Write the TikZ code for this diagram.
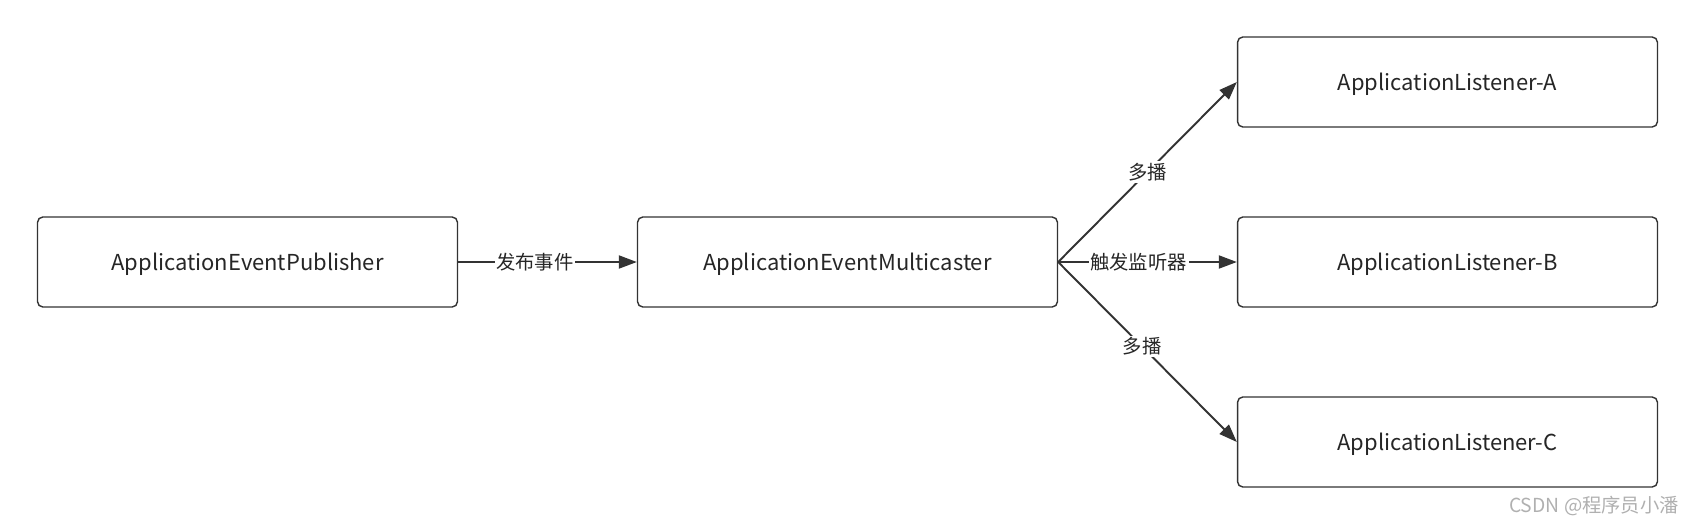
\documentclass[tikz,border=0pt]{standalone}
\usepackage{fontspec}
\setmainfont{Noto Sans CJK SC}
\usepackage{tikz}
\usetikzlibrary{arrows.meta}
\definecolor{linegray}{HTML}{333333}
\definecolor{markgray}{HTML}{B0B0B0}

\begin{document}
\begin{tikzpicture}[x=0.02cm, y=-0.02cm,
		box_style/.style={rectangle,draw=linegray,line width=0.8pt,rounded corners=3pt,fill=white,
			minimum width=8.4cm,minimum height=1.8cm,text height=12.7pt,text depth=2.5pt,
			font=\fontsize{12.5}{15}\selectfont,text=black!85},
		edge_style/.style={draw=linegray,line width=1.1pt,-{Triangle[length=0.36cm,width=0.26cm]}},
		label_style/.style={fill=white,inner sep=1pt,font=\fontsize{11}{13}\selectfont,text=black!85}]
		
		\useasboundingbox (0,0) rectangle (1695,525);
		
		\node[box_style] (pub) at (247.5,262)  {ApplicationEventPublisher};
		\node[box_style] (mc) at (847.5,262)  {ApplicationEventMulticaster};
		\node[box_style] (la) at (1447.5,82)  {ApplicationListener-A};
		\node[box_style] (lb) at (1447.5,262)  {ApplicationListener-B};
		\node[box_style] (lc) at (1447.5,442)  {ApplicationListener-C};

		\draw[edge_style]  (pub) -- node[label_style,pos=0.43]{发布事件} (mc);
		\draw[edge_style]  (mc.east) -- node[label_style,pos=0.45]{触发监听器} (lb);
		\draw[edge_style]  (mc.east) -- node[label_style,pos=0.5]{多播} (la.west);
		\draw[edge_style]  (mc.east) -- node[label_style,pos=0.47]{多播} (lc.west);

		\node[text=markgray,font=\fontsize{11}{13}\selectfont] (mark) at (1594,506) {CSDN @程序员小潘};
		\end{tikzpicture}
\end{document}
